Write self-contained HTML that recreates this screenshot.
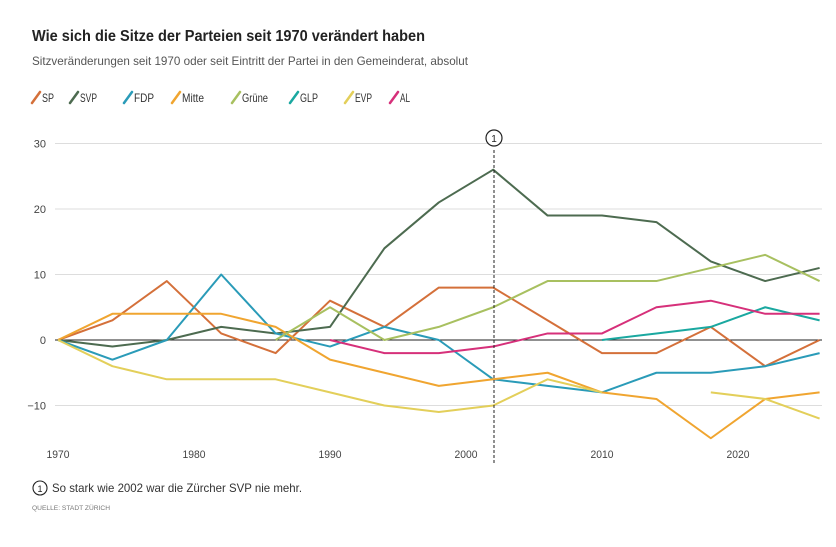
<!DOCTYPE html>
<html><head><meta charset="utf-8"><style>
body{margin:0;background:#fff;width:836px;height:542px;overflow:hidden;font-family:"Liberation Sans",sans-serif;}
</style></head><body>
<svg width="836" height="542" font-family="Liberation Sans, sans-serif">
<text x="32" y="41" font-size="16" font-weight="bold" fill="#222" textLength="393" lengthAdjust="spacingAndGlyphs">Wie sich die Sitze der Parteien seit 1970 verändert haben</text>
<text x="32" y="65" font-size="12" fill="#555" textLength="436" lengthAdjust="spacingAndGlyphs">Sitzveränderungen seit 1970 oder seit Eintritt der Partei in den Gemeinderat, absolut</text>
<g id="legend"></g>
<g id="grid"></g><g id="lines"></g>
<line x1="494" y1="150" x2="494" y2="465" stroke="#222" stroke-dasharray="3,2" stroke-width="1"/>
<circle cx="494" cy="138" r="8" fill="#fff" stroke="#222" stroke-width="1.2"/>
<text x="494" y="142" font-size="10" text-anchor="middle" fill="#222">1</text>
<circle cx="40" cy="488" r="7" fill="#fff" stroke="#222" stroke-width="1.1"/>
<text x="40" y="492" font-size="9" text-anchor="middle" fill="#222">1</text>
<text x="52" y="492" font-size="12" fill="#333" textLength="250" lengthAdjust="spacingAndGlyphs">So stark wie 2002 war die Zürcher SVP nie mehr.</text>
<text x="32" y="510" font-size="6" fill="#777" textLength="78" lengthAdjust="spacingAndGlyphs">QUELLE: STADT ZÜRICH</text>
</svg>
<script>
const years=[1970,1974,1978,1982,1986,1990,1994,1998,2002,2006,2010,2014,2018,2022,2026];
const parties=["SP","SVP","FDP","Mitte","Grüne","GLP","EVP","AL"];
const colors=["#d4703a","#4d6b50","#2a9bb8","#f0a530","#a8c060","#1aa8a0","#e3cf5a","#d6307a"];
const sp=[0,3,9,1,-2,6,2,8,8,3,-2,-2,2,-4,0];
const svp=[0,-1,0,2,1,2,14,21,26,19,19,18,12,9,11];
const fdp=[0,-3,0,10,1,-1,2,0,-6,-7,-8,-5,-5,-4,-2];
const mitte=[0,4,4,4,2,-3,-5,-7,-6,-5,-8,-9,-15,-9,-8];
const gruene=[null,null,null,null,0,5,0,2,5,9,9,9,11,13,9];
const glp=[null,null,null,null,null,null,null,null,null,null,0,1,2,5,3];
const evp=[0,-4,-6,-6,-6,-8,-10,-11,-10,-6,-8,null,-8,-9,-12];
const al=[null,null,null,null,null,0,-2,-2,-1,1,1,5,6,4,4];
const series=[sp,svp,fdp,mitte,gruene,glp,evp,al];
const yTicks=[-10,0,10,20,30];
const xTicks=[1970,1980,1990,2000,2010,2020];
const X=y=>58+(y-1970)*13.6;
const Y=v=>340-v*6.55;
const NS="http://www.w3.org/2000/svg";
function mk(t,a,p){const e=document.createElementNS(NS,t);for(const k in a)e.setAttribute(k,a[k]);p.appendChild(e);return e;}
const grid=document.getElementById('grid');
yTicks.forEach(v=>{
 const l=mk('line',{x1:55,x2:822,y1:Y(v),y2:Y(v),stroke:v===0?'#222':'#ddd','stroke-width':1},grid);
 
 
 const t=mk('text',{x:46,y:Y(v)+4,'font-size':11,'text-anchor':'end',fill:'#444'},grid);
 t.textContent=v<0?'−'+Math.abs(v):v;
 
 
});
xTicks.forEach(y=>{
 const t=mk('text',{x:X(y),y:458,'font-size':11,'text-anchor':'middle',fill:'#444',textLength:23,lengthAdjust:'spacingAndGlyphs'},grid);
 t.textContent=y;
 
 
});
const lines=document.getElementById('lines');
series.forEach((s,i)=>{
 let d='',pen=false;
 s.forEach((v,j)=>{if(v===null){pen=false;return;}d+=(pen?'L':'M')+X(years[j])+','+Y(v);pen=true;});
 const p=mk('path',{d:d,fill:'none',stroke:colors[i],'stroke-width':2,'stroke-linejoin':'round'},lines);
 
 
});
const lg=document.getElementById('legend');
const lxs=[32,70,124,172,232,290,345,390];
const lws=[12,17,20,22,26,18,17,10];
parties.forEach((n,i)=>{
 const lx=lxs[i];
 const g=mk('g',{},lg);
 
 
 mk('line',{x1:lx,y1:103,x2:lx+8,y2:92,stroke:colors[i],'stroke-width':2.5,'stroke-linecap':'round'},g);
 const t=mk('text',{x:lx+10,y:102,'font-size':12,fill:'#333',textLength:lws[i],lengthAdjust:'spacingAndGlyphs'},g);
 t.textContent=n;
});
</script>
</body></html>
